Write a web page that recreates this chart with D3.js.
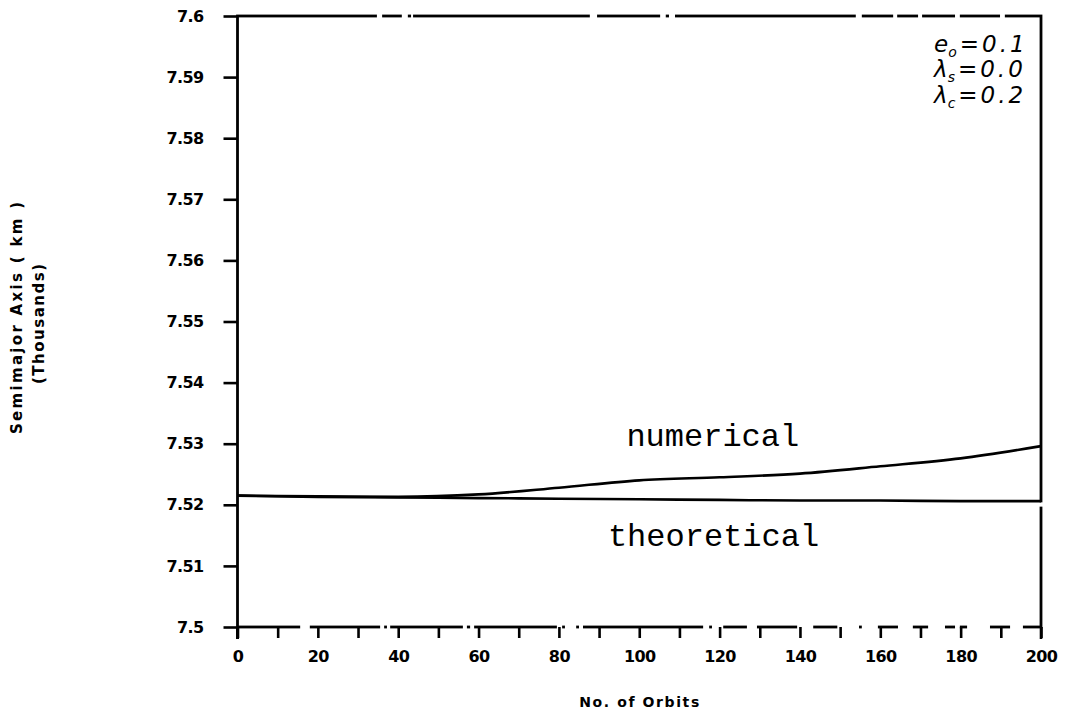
<!DOCTYPE html>
<html>
<head>
<meta charset="utf-8">
<script src="https://cdn.jsdelivr.net/npm/d3@7"></script>
<style>
  html, body { margin: 0; padding: 0; background: #fff; }
  svg { display: block; }
</style>
</head>
<body>
<svg id="chart" width="1069" height="714"></svg>
<script>
// Semimajor axis (thousands of km) versus number of orbits
const orbits      = [0, 20, 40, 60, 80, 100, 120, 140, 160, 180, 200];
const numerical   = [7.5215, 7.5214, 7.5213, 7.5217, 7.5228, 7.5240, 7.5245, 7.5251, 7.5263, 7.5276, 7.5296];
const theoretical = [7.5215, 7.5213, 7.5212, 7.5211, 7.5210, 7.5209, 7.5208, 7.5207, 7.5207, 7.5206, 7.5206];

const xTicks = d3.range(0, 201, 20);
const xMinorTicks = d3.range(0, 201, 10);
const yTicks = [7.5, 7.51, 7.52, 7.53, 7.54, 7.55, 7.56, 7.57, 7.58, 7.59, 7.6];
const yTickLabels = ["7.5", "7.51", "7.52", "7.53", "7.54", "7.55", "7.56", "7.57", "7.58", "7.59", "7.6"];

const params = [
  { sym: "e", sub: "o", val: "=0.1" },
  { sym: "λ", sub: "s", val: "=0.0" },
  { sym: "λ", sub: "c", val: "=0.2" }
];

const svg = d3.select("#chart");
const plotLeft = 237.5, plotRight = 1041, plotTop = 16, plotBottom = 627;

const x = d3.scaleLinear().domain([0, 200]).range([plotLeft, plotRight]);
const y = d3.scaleLinear().domain([7.5, 7.6]).range([plotBottom, plotTop]);

const ink = "#000";
const tickFont = "'DejaVu Sans', Arial, sans-serif";

// breaks in the top and bottom frame edges, in orbit units
const topEdgeBreaks = [[34.7, 36.0], [40.9, 42.4], [43.2, 43.7], [87.7, 89.5], [105.2, 106.6],
  [107.4, 108.9], [153.9, 155.4], [163.2, 164.2], [169.4, 170.4], [178.6, 179.8], [189.8, 191.0]];
const bottomEdgeBreaks = [[15.6, 18.0], [35.5, 36.5], [37.2, 38.0], [56.1, 57.1], [57.9, 58.9],
  [79.5, 80.8], [81.5, 84.3], [85.0, 86.0], [115.9, 117.4], [118.1, 120.9], [126.8, 129.3],
  [139.3, 143.3], [149.3, 154.7], [155.4, 159.4], [164.4, 168.1], [171.9, 176.1], [178.6, 179.8],
  [181.6, 187.3], [192.3, 195.5]];

// frame: solid rectangle edges, then the breaks knocked out in white
const frame = svg.append("g").attr("fill", "none");
frame.append("rect")
  .attr("x", x(0)).attr("y", y(7.6))
  .attr("width", x(200) - x(0)).attr("height", y(7.5) - y(7.6))
  .attr("stroke", ink).attr("stroke-width", 2.8);
frame.selectAll("rect.top-break").data(topEdgeBreaks).join("rect").attr("class", "top-break")
  .attr("x", d => x(d[0])).attr("width", d => x(d[1]) - x(d[0]))
  .attr("y", y(7.6) - 2).attr("height", 4).attr("fill", "#fff");
frame.selectAll("rect.bottom-break").data(bottomEdgeBreaks).join("rect").attr("class", "bottom-break")
  .attr("x", d => x(d[0])).attr("width", d => x(d[1]) - x(d[0]))
  .attr("y", y(7.5) - 2).attr("height", 4).attr("fill", "#fff");
// right edge opening where the curves end
frame.append("rect")
  .attr("x", x(200) - 2).attr("width", 4)
  .attr("y", y(7.5204)).attr("height", y(7.5197) - y(7.5204)).attr("fill", "#fff");
// left and right edges continue past the bottom axis
frame.append("line")
  .attr("x1", x(0)).attr("x2", x(0)).attr("y1", y(7.5)).attr("y2", y(7.5) + 12)
  .attr("stroke", ink).attr("stroke-width", 3);
frame.append("line")
  .attr("x1", x(200)).attr("x2", x(200)).attr("y1", y(7.5)).attr("y2", y(7.5) + 12)
  .attr("stroke", ink).attr("stroke-width", 2.6);

// y axis
const yAxis = d3.axisLeft(y).tickValues(yTicks)
  .tickFormat((d, i) => yTickLabels[i]).tickSize(14).tickPadding(20);
const gy = svg.append("g").attr("transform", `translate(${x(0)},0)`).call(yAxis);
gy.select(".domain").remove();
gy.selectAll(".tick line").attr("stroke", ink).attr("stroke-width", 2.6);
gy.selectAll(".tick text")
  .attr("fill", ink).attr("font-family", tickFont).attr("font-weight", "bold")
  .attr("font-size", 16).attr("letter-spacing", "-0.6");

// x axis: minor ticks every 10, labels every 20
const xAxisMinor = d3.axisBottom(x).tickValues(xMinorTicks).tickFormat("").tickSize(11);
const gxm = svg.append("g").attr("transform", `translate(0,${y(7.5)})`).call(xAxisMinor);
gxm.select(".domain").remove();
gxm.selectAll(".tick line").attr("stroke", ink).attr("stroke-width", 2.6);

const xAxis = d3.axisBottom(x).tickValues(xTicks).tickFormat(d3.format("d")).tickSize(0).tickPadding(24);
const gx = svg.append("g").attr("transform", `translate(0,${y(7.5)})`).call(xAxis);
gx.select(".domain").remove();
gx.selectAll(".tick text")
  .attr("fill", ink).attr("font-family", tickFont).attr("font-weight", "bold")
  .attr("font-size", 16).attr("letter-spacing", "-0.6");

// curves
const line = d3.line().x((d, i) => x(orbits[i])).y(d => y(d)).curve(d3.curveMonotoneX);
svg.append("path").datum(theoretical).attr("d", line)
  .attr("fill", "none").attr("stroke", ink).attr("stroke-width", 2.6);
svg.append("path").datum(numerical).attr("d", line)
  .attr("fill", "none").attr("stroke", ink).attr("stroke-width", 2.6);

// curve labels
const monoFont = "'Liberation Mono', 'Courier New', monospace";
svg.append("text").attr("x", x(96.8)).attr("y", y(7.5297))
  .attr("font-family", monoFont).attr("font-size", 32).attr("fill", ink)
  .text("numerical");
svg.append("text").attr("x", x(92.2)).attr("y", y(7.5132))
  .attr("font-family", monoFont).attr("font-size", 32).attr("fill", ink)
  .text("theoretical");

// parameter block in the upper right
const pg = svg.append("g").attr("font-family", "'DejaVu Sans', sans-serif")
  .attr("font-style", "italic").attr("font-size", 23).attr("fill", ink);
const paramBaselines = [52, 77, 103];
params.forEach((p, i) => {
  const t = pg.append("text").attr("x", 934).attr("y", paramBaselines[i]);
  t.append("tspan").text(p.sym);
  t.append("tspan").attr("font-size", 14).attr("dy", 5).text(p.sub);
  t.append("tspan").attr("dy", -5).attr("dx", 3).attr("letter-spacing", "3").text(p.val);
});

// axis titles
svg.append("text").attr("x", (x(0) + x(200)) / 2).attr("y", 707)
  .attr("text-anchor", "middle").attr("font-family", tickFont)
  .attr("font-weight", "bold").attr("font-size", 14).attr("fill", ink)
  .attr("textLength", 120).attr("lengthAdjust", "spacing")
  .text("No. of Orbits");

const yt = svg.append("g").attr("font-family", tickFont).attr("font-weight", "bold").attr("fill", ink);
yt.append("text").attr("transform", "translate(22,318) rotate(-90)")
  .attr("text-anchor", "middle").attr("font-size", 15)
  .attr("textLength", 232).attr("lengthAdjust", "spacing")
  .text("Semimajor Axis ( km )");
yt.append("text").attr("transform", "translate(44,324) rotate(-90)")
  .attr("text-anchor", "middle").attr("font-size", 15)
  .attr("textLength", 120).attr("lengthAdjust", "spacing")
  .text("(Thousands)");
</script>
</body>
</html>
